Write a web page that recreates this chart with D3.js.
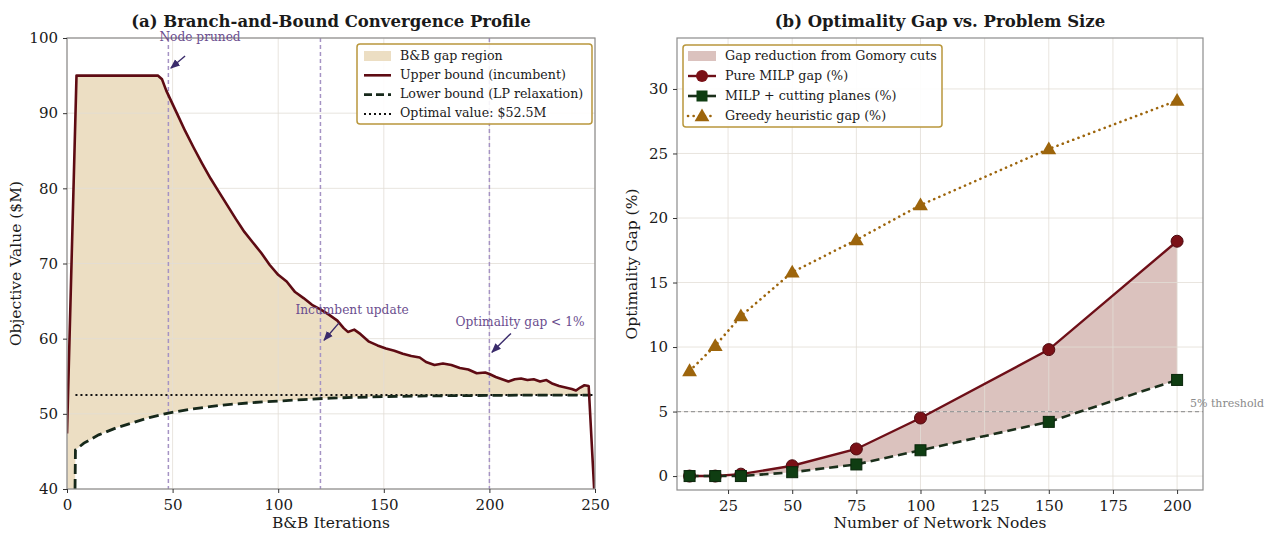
<!DOCTYPE html>
<html>
<head>
<meta charset="utf-8">
<script src="https://cdn.jsdelivr.net/npm/d3@7"></script>
<style>
  body { margin: 0; background: #fff; }
  svg text { font-family: "DejaVu Serif", serif; fill: #1a1a1a; }
</style>
</head>
<body>
<div id="chart"></div>
<script>
// (a) branch-and-bound convergence
var ubIter = [0, 4.5, 43, 45, 47, 52, 56, 60, 64, 68, 72, 76, 80, 84, 88, 92, 96, 100, 104, 108, 112, 116, 120, 124, 128, 131, 133, 136, 139, 143, 147, 151, 155, 159, 163, 167, 170, 174, 178, 182, 186, 190, 194, 198, 200, 203, 206, 209, 212, 215, 218, 221, 224, 227, 230, 233, 236, 239, 241, 243, 245, 247, 249.6];
var ubVal = [47.4, 95, 95, 94.5, 93.0, 90.0, 87.6, 85.4, 83.3, 81.3, 79.5, 77.7, 75.9, 74.2, 72.8, 71.4, 69.8, 68.5, 67.6, 66.2, 65.4, 64.5, 63.9, 63.2, 62.4, 61.4, 60.9, 61.2, 60.6, 59.6, 59.1, 58.7, 58.4, 58.0, 57.7, 57.5, 56.9, 56.5, 56.7, 56.5, 56.1, 55.9, 55.4, 55.5, 55.3, 54.9, 54.6, 54.3, 54.6, 54.7, 54.5, 54.6, 54.3, 54.5, 54.0, 53.7, 53.5, 53.3, 53.1, 53.5, 53.8, 53.7, 40];
var lbIter = [3.8, 4, 8, 15, 23, 31, 39, 48, 58, 66, 75, 88, 100, 112, 125, 138, 150, 175, 200, 225, 248];
var lbVal = [40, 45.2, 46.1, 47.2, 48.1, 48.8, 49.5, 50.1, 50.6, 50.9, 51.2, 51.5, 51.7, 51.9, 52.1, 52.2, 52.3, 52.4, 52.45, 52.5, 52.5];
var optimalValue = 52.5;
var optimalSpan = [4, 250];
var eventIter = [48, 120, 200];
var annLabels = ["Node pruned", "Incumbent update", "Optimality gap < 1%"];
var annTextAt = [[63, 100.1], [135, 63.7], [214.5, 62.2]];
var annFrom = [[55.9, 97.6], [128.8, 62.1], [210.2, 60.7]];
var annTo = [[49.2, 96.0], [121.7, 59.8], [201.2, 58.2]];
var leftXTicks = [0, 50, 100, 150, 200, 250];
var leftYTicks = [40, 50, 60, 70, 80, 90, 100];
var leftLegend = ["B&B gap region", "Upper bound (incumbent)", "Lower bound (LP relaxation)", "Optimal value: $52.5M"];

// (b) optimality gap vs size
var nodes = [10, 20, 30, 50, 75, 100, 150, 200];
var pureGap = [0, 0, 0.15, 0.8, 2.1, 4.5, 9.8, 18.2];
var cutGap = [0, 0, 0, 0.3, 0.9, 2.0, 4.2, 7.45];
var greedyGap = [8.15, 10.1, 12.4, 15.8, 18.3, 21.0, 25.35, 29.1];
var threshold = 5;
var rightXTicks = [25, 50, 75, 100, 125, 150, 175, 200];
var rightYTicks = [0, 5, 10, 15, 20, 25, 30];
var rightLegend = ["Gap reduction from Gomory cuts", "Pure MILP gap (%)", "MILP + cutting planes (%)", "Greedy heuristic gap (%)"];

var C = {
    tanFill: "#ecdec3", ub: "#5e0b13", lb: "#16281a", opt: "#111",
    event: "#a593c4", ann: "#6a4d8e", arrow: "#3a2b6b",
    gapFill: "#dbc2be", pure: "#6e0f18", pureM: "#7a1016",
    cut: "#1b2f1b", cutM: "#0f3d12", greedy: "#9d650c",
    legendEdge: "#b9973c", grid: "#e2ddd6", spine: "#8c8c8c"
};

function main() {
    var W = 1284, H = 539;
    var svg = d3.select("#chart").append("svg")
        .attr("width", W).attr("height", H);

    var defs = svg.append("defs");
    defs.append("marker").attr("id", "ah")
        .attr("viewBox", "0 0 10 10").attr("refX", 9).attr("refY", 5)
        .attr("markerWidth", 7).attr("markerHeight", 7).attr("orient", "auto")
        .append("path").attr("d", "M0,1 L10,5 L0,9 Z").attr("fill", C.arrow);

    // ---------- panel a ----------
    var A = { left: 67, right: 595, top: 38, bottom: 489 };
    var xa = d3.scaleLinear().domain([0, 250]).range([A.left, A.right]);
    var ya = d3.scaleLinear().domain([40, 100]).range([A.bottom, A.top]);

    defs.append("clipPath").attr("id", "clipA").append("rect")
        .attr("x", A.left).attr("y", A.top)
        .attr("width", A.right - A.left).attr("height", A.bottom - A.top);

    var ga = svg.append("g");
    var line = d3.line().x(d => xa(d[0])).y(d => ya(d[1]));

    var ub = ubIter.map((t, i) => [t, ubVal[i]]);
    var lb = lbIter.map((t, i) => [t, lbVal[i]]);
    var poly = ub.slice(0, ub.length - 1).concat(lb.slice().reverse()).concat([[0, 40]]);

    var pa = ga.append("g").attr("clip-path", "url(#clipA)");
    pa.append("path")
        .datum(poly)
        .attr("d", d => line(d) + "Z")
        .attr("fill", C.tanFill);

    drawGrid(ga, xa, ya, leftXTicks, leftYTicks, A);

    var pl = ga.append("g").attr("clip-path", "url(#clipA)");
    pl.selectAll(".ev").data(eventIter).enter().append("line")
        .attr("x1", d => xa(d)).attr("x2", d => xa(d))
        .attr("y1", A.top).attr("y2", A.bottom)
        .attr("stroke", C.event).attr("stroke-width", 1.5)
        .attr("stroke-dasharray", "4,3");

    pl.append("line")
        .attr("x1", xa(optimalSpan[0])).attr("x2", xa(optimalSpan[1]))
        .attr("y1", ya(optimalValue)).attr("y2", ya(optimalValue))
        .attr("stroke", C.opt).attr("stroke-width", 2)
        .attr("stroke-dasharray", "2,3");

    pl.append("path").datum(lb).attr("d", line)
        .attr("fill", "none").attr("stroke", C.lb).attr("stroke-width", 2.8)
        .attr("stroke-dasharray", "10,5");

    pl.append("path").datum(ub).attr("d", line)
        .attr("fill", "none").attr("stroke", C.ub).attr("stroke-width", 2.6)
        .attr("stroke-linejoin", "round");

    drawFrame(ga, A);
    drawAxes(ga, xa, ya, leftXTicks, leftYTicks, A, d3.format("d"));

    // annotations
    annLabels.forEach((lab, i) => {
        ga.append("line")
            .attr("x1", xa(annFrom[i][0])).attr("y1", ya(annFrom[i][1]))
            .attr("x2", xa(annTo[i][0])).attr("y2", ya(annTo[i][1]))
            .attr("stroke", C.arrow).attr("stroke-width", 1.4)
            .attr("marker-end", "url(#ah)");
        ga.append("text")
            .attr("x", xa(annTextAt[i][0])).attr("y", ya(annTextAt[i][1]))
            .attr("text-anchor", "middle").attr("dominant-baseline", "middle")
            .style("font-size", "12.2px").style("fill", C.ann)
            .text(lab);
    });

    // legend a
    var la = ga.append("g").attr("transform", "translate(357,44)");
    la.append("rect").attr("width", 235).attr("height", 80).attr("rx", 3)
        .attr("fill", "#fff").attr("fill-opacity", 0.9)
        .attr("stroke", C.legendEdge).attr("stroke-width", 1.5);
    leftLegend.forEach((lab, i) => {
        var y = 12 + i * 19.3;
        if (i === 0) {
            la.append("rect").attr("x", 7).attr("y", y - 5).attr("width", 27).attr("height", 10).attr("fill", C.tanFill);
        } else {
            la.append("line").attr("x1", 7).attr("x2", 34).attr("y1", y).attr("y2", y)
                .attr("stroke", [C.ub, C.lb, C.opt][i - 1])
                .attr("stroke-width", i === 3 ? 2 : 2.6)
                .attr("stroke-dasharray", [null, "8,4", "2,3"][i - 1]);
        }
        la.append("text").attr("x", 43).attr("y", y).attr("dominant-baseline", "middle")
            .style("font-size", "12.6px").text(lab);
    });

    ga.append("text").attr("x", (A.left + A.right) / 2).attr("y", 22)
        .attr("text-anchor", "middle").attr("dominant-baseline", "middle")
        .style("font-size", "16.5px").style("font-weight", "bold")
        .text("(a) Branch-and-Bound Convergence Profile");
    ga.append("text").attr("x", (A.left + A.right) / 2).attr("y", 524)
        .attr("text-anchor", "middle").attr("dominant-baseline", "middle")
        .style("font-size", "15.5px").text("B&B Iterations");
    ga.append("text").attr("transform", "translate(17," + (A.top + A.bottom) / 2 + ") rotate(-90)")
        .attr("text-anchor", "middle").attr("dominant-baseline", "middle")
        .style("font-size", "15.5px").text("Objective Value ($M)");

    // ---------- panel b ----------
    var B = { left: 677, right: 1203, top: 38, bottom: 490 };
    var xb = d3.scaleLinear().domain([5.1, 210.1]).range([B.left, B.right]);
    var yb = d3.scaleLinear().domain([-1.08, 33.95]).range([B.bottom, B.top]);

    var gb = svg.append("g");

    gb.append("path")
        .datum(nodes)
        .attr("d", d3.area().x(d => xb(d))
            .y0((d, i) => yb(cutGap[i])).y1((d, i) => yb(pureGap[i])))
        .attr("fill", C.gapFill);

    drawGrid(gb, xb, yb, rightXTicks, rightYTicks, B);

    gb.append("line")
        .attr("x1", B.left).attr("x2", B.right)
        .attr("y1", yb(threshold)).attr("y2", yb(threshold))
        .attr("stroke", "#9a9a9a").attr("stroke-width", 1.3)
        .attr("stroke-dasharray", "4,3");
    gb.append("text").attr("x", B.right - 13).attr("y", yb(threshold) - 8)
        .attr("dominant-baseline", "middle")
        .style("font-size", "11px").style("fill", "#8a8a8a")
        .text("5% threshold");

    var lineB = ys => d3.line().x((d, i) => xb(nodes[i])).y(d => yb(d))(ys);

    gb.append("path").attr("d", lineB(greedyGap))
        .attr("fill", "none").attr("stroke", C.greedy).attr("stroke-width", 2.6)
        .attr("stroke-dasharray", "0.1,5.5").attr("stroke-linecap", "round");
    gb.append("path").attr("d", lineB(pureGap))
        .attr("fill", "none").attr("stroke", C.pure).attr("stroke-width", 2.4);
    gb.append("path").attr("d", lineB(cutGap))
        .attr("fill", "none").attr("stroke", C.cut).attr("stroke-width", 2.6)
        .attr("stroke-dasharray", "9,5");

    var tri = d3.symbol().type(d3.symbolTriangle).size(95);
    gb.selectAll(".tri").data(greedyGap).enter().append("path")
        .attr("d", tri)
        .attr("transform", (d, i) => "translate(" + xb(nodes[i]) + "," + (yb(d) + 1) + ")")
        .attr("fill", C.greedy);
    gb.selectAll(".circ").data(pureGap).enter().append("circle")
        .attr("cx", (d, i) => xb(nodes[i])).attr("cy", d => yb(d)).attr("r", 6)
        .attr("fill", C.pureM).attr("stroke", "#4e0a10").attr("stroke-width", 1);
    gb.selectAll(".sq").data(cutGap).enter().append("rect")
        .attr("x", (d, i) => xb(nodes[i]) - 5.5).attr("y", d => yb(d) - 5.5)
        .attr("width", 11).attr("height", 11)
        .attr("fill", C.cutM).attr("stroke", "#0a260b").attr("stroke-width", 1);

    drawFrame(gb, B);
    drawAxes(gb, xb, yb, rightXTicks, rightYTicks, B, d3.format("d"));

    // legend b
    var lg = gb.append("g").attr("transform", "translate(683,45)");
    lg.append("rect").attr("width", 259).attr("height", 82).attr("rx", 3)
        .attr("fill", "#fff").attr("fill-opacity", 0.9)
        .attr("stroke", C.legendEdge).attr("stroke-width", 1.5);
    rightLegend.forEach((lab, i) => {
        var y = 11 + i * 20;
        var hx0 = 5, hx1 = 33, hm = 19;
        if (i === 0) {
            lg.append("rect").attr("x", hx0).attr("y", y - 5).attr("width", hx1 - hx0).attr("height", 10).attr("fill", C.gapFill);
        } else if (i === 1) {
            lg.append("line").attr("x1", hx0).attr("x2", hx1).attr("y1", y).attr("y2", y)
                .attr("stroke", C.pure).attr("stroke-width", 2.4);
            lg.append("circle").attr("cx", hm).attr("cy", y).attr("r", 6).attr("fill", C.pureM);
        } else if (i === 2) {
            lg.append("line").attr("x1", hx0).attr("x2", hx1).attr("y1", y).attr("y2", y)
                .attr("stroke", C.cut).attr("stroke-width", 2.6);
            lg.append("rect").attr("x", hm - 5.5).attr("y", y - 5.5).attr("width", 11).attr("height", 11).attr("fill", C.cutM);
        } else {
            lg.append("line").attr("x1", hx0).attr("x2", hx1).attr("y1", y).attr("y2", y)
                .attr("stroke", C.greedy).attr("stroke-width", 2.6)
                .attr("stroke-dasharray", "0.1,5.5").attr("stroke-linecap", "round");
            lg.append("path").attr("d", tri).attr("transform", "translate(" + hm + "," + (y + 1) + ")").attr("fill", C.greedy);
        }
        lg.append("text").attr("x", 42).attr("y", y).attr("dominant-baseline", "middle")
            .style("font-size", "12.7px").text(lab);
    });

    gb.append("text").attr("x", (B.left + B.right) / 2).attr("y", 22)
        .attr("text-anchor", "middle").attr("dominant-baseline", "middle")
        .style("font-size", "16.5px").style("font-weight", "bold")
        .text("(b) Optimality Gap vs. Problem Size");
    gb.append("text").attr("x", (B.left + B.right) / 2).attr("y", 524)
        .attr("text-anchor", "middle").attr("dominant-baseline", "middle")
        .style("font-size", "15.5px").text("Number of Network Nodes");
    gb.append("text").attr("transform", "translate(633," + (B.top + B.bottom) / 2 + ") rotate(-90)")
        .attr("text-anchor", "middle").attr("dominant-baseline", "middle")
        .style("font-size", "15.5px").text("Optimality Gap (%)");
}

function drawGrid(g, x, y, xt, yt, R) {
    g.append("g").selectAll("line").data(xt).enter().append("line")
        .attr("x1", d => x(d)).attr("x2", d => x(d)).attr("y1", R.top).attr("y2", R.bottom)
        .attr("stroke", C.grid).attr("stroke-width", 0.8);
    g.append("g").selectAll("line").data(yt).enter().append("line")
        .attr("y1", d => y(d)).attr("y2", d => y(d)).attr("x1", R.left).attr("x2", R.right)
        .attr("stroke", C.grid).attr("stroke-width", 0.8);
}

function drawFrame(g, R) {
    g.append("rect").attr("x", R.left).attr("y", R.top)
        .attr("width", R.right - R.left).attr("height", R.bottom - R.top)
        .attr("fill", "none").attr("stroke", C.spine).attr("stroke-width", 1.2);
}

function drawAxes(g, x, y, xt, yt, R, fmt) {
    var ax = g.append("g").attr("transform", "translate(0," + R.bottom + ")")
        .call(d3.axisBottom(x).tickValues(xt).tickFormat(fmt).tickSizeOuter(0).tickSize(4).tickPadding(6));
    var ay = g.append("g").attr("transform", "translate(" + R.left + ",0)")
        .call(d3.axisLeft(y).tickValues(yt).tickFormat(fmt).tickSizeOuter(0).tickSize(4).tickPadding(5));
    [ax, ay].forEach(a => {
        a.select(".domain").remove();
        a.selectAll(".tick line").attr("stroke", "#333");
        a.selectAll(".tick text").style("font-size", "15px").style("font-family", "DejaVu Serif, serif").attr("fill", "#1a1a1a");
    });
}

main();
</script>
</body>
</html>
